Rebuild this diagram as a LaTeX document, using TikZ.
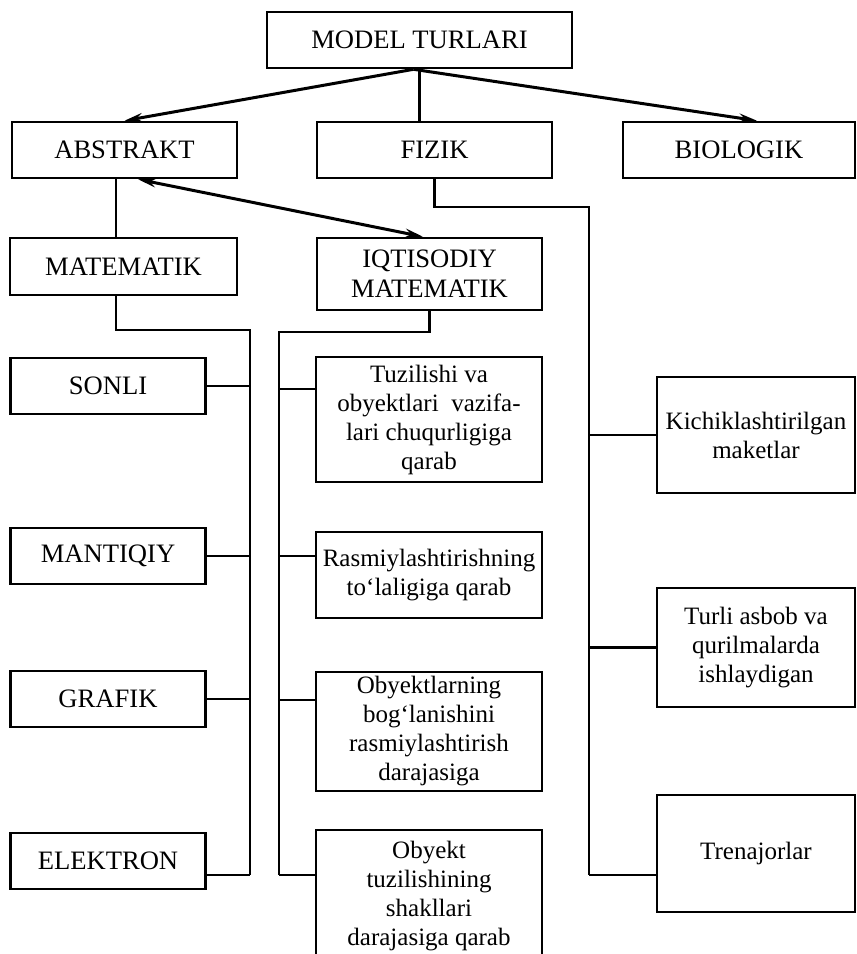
\documentclass[tikz,border=0pt]{standalone}
\usepackage{fontspec}
\setmainfont{Liberation Serif}
\usetikzlibrary{arrows.meta}
\tikzset{b/.style={draw, line width=1.3pt, inner sep=0pt, align=center, font=\fontsize{12.5}{14.5}\selectfont}}
\tikzset{c/.style={b, font=\fontsize{13.3}{15}\selectfont}}
\tikzset{w/.style={line width=1.15pt}}
\tikzset{a/.style={line width=1.5pt}}

\begin{document}
\begin{tikzpicture}[x=0.5pt, y=-0.5pt, >={Stealth[length=9pt,width=4.5pt]}]
  \useasboundingbox (0,0) rectangle (857,954);
  % top levels
  \node[c, minimum width=152.5pt, minimum height=28pt] (mt) at (419.5,40) {MODEL TURLARI};
  \node[c, minimum width=112.5pt, minimum height=28pt] (abs) at (124.5,150) {ABSTRAKT};
  \node[c, minimum width=117.5pt, minimum height=28pt] (fiz) at (434.5,150) {FIZIK};
  \node[c, minimum width=116pt, minimum height=28pt] (bio) at (739,150) {BIOLOGIK};
  \node[c, minimum width=113.5pt, minimum height=28.5pt] (mat) at (123.5,266.5) {MATEMATIK};
  \node[c, minimum width=112.5pt, minimum height=36pt] (iqt) at (429.5,274) {IQTISODIY\\MATEMATIK};
  % left column
  \node[c, minimum width=97.5pt, minimum height=28pt] (son) at (108,386) {SONLI};
  \node[c, minimum width=97.5pt, minimum height=28pt] (man) at (108,556) {MANTIQIY};
  \node[c, minimum width=97.5pt, minimum height=28pt] (gra) at (108,699) {GRAFIK};
  \node[c, minimum width=97.5pt, minimum height=28pt] (elk) at (108,861) {ELEKTRON};
  % middle column
  \node[b, minimum width=113pt, minimum height=62.5pt] (tuz) at (429,419.5) {Tuzilishi va\\obyektlari\enspace vazifa-\\lari chuqurligiga\\qarab};
  \node[b, minimum width=113pt, minimum height=43pt] (ras) at (429,575) {Rasmiylashtirishning\\to‘laligiga qarab};
  \node[b, minimum width=113pt, minimum height=59.5pt] (obl) at (429,731.5) {Obyektlarning\\bog‘lanishini\\rasmiylashtirish\\darajasiga};
  \node[b, minimum width=113pt, minimum height=66pt] (obk) at (429,896) {Obyekt\\tuzilishining\\shakllari\\darajasiga qarab};
  % right column
  \node[b, minimum width=99pt, minimum height=58pt] (kic) at (756,435) {Kichiklashtirilgan\\maketlar};
  \node[b, minimum width=99pt, minimum height=59.5pt] (tur) at (756,647.5) {Turli asbob va\\qurilmalarda\\ishlaydigan};
  \node[b, minimum width=99pt, minimum height=58.5pt] (tre) at (756,853.5) {Trenajorlar};

  \coordinate (lb) at (250,330);
  \coordinate (mb) at (279,332);
  \coordinate (rb) at (589,207);
  \coordinate (ax) at (116,0);
  \coordinate (lo) at (0,875);
  \coordinate (t1) at (0,389);
  \coordinate (t2) at (0,556);
  \coordinate (t3) at (0,700);

  % arrows from the top
  \draw[a, ->] ([xshift=-3pt]mt.south) -- (abs.north);
  \draw[a, ->] ([xshift=-3pt]mt.south) -- ([xshift=9pt]bio.north);
  \draw[w] (mt.south) -- (mt.south |- fiz.north);
  \draw[a, <->] ([xshift=6.75pt]abs.south) -- ([xshift=-3.25pt]iqt.north);
  \draw[w] (ax |- abs.south) -- (ax |- mat.north);

  % buses
  \draw[w] (mat.south -| ax) |- (lb) -- (lb |- lo);
  \draw[w] (iqt.south) |- (mb) -- (mb |- lo);
  \draw[w] (fiz.south) |- (rb) -- (rb |- lo);

  % branches
  \foreach \n in {son,man,gra}
    \draw[w] (\n.east) -- (\n.east -| lb);
  \draw[w] (elk.east |- lo) -- (lb |- lo);
  \draw[w] (tuz.west |- t1) -- (mb |- t1);
  \draw[w] (ras.west |- t2) -- (mb |- t2);
  \draw[w] (obl.west |- t3) -- (mb |- t3);
  \draw[w] (obk.west |- lo) -- (mb |- lo);
  \foreach \n in {kic,tur}
    \draw[w] (\n.west) -- (\n.west -| rb);
  \draw[w] (tre.west |- lo) -- (rb |- lo);
\end{tikzpicture}
\end{document}
